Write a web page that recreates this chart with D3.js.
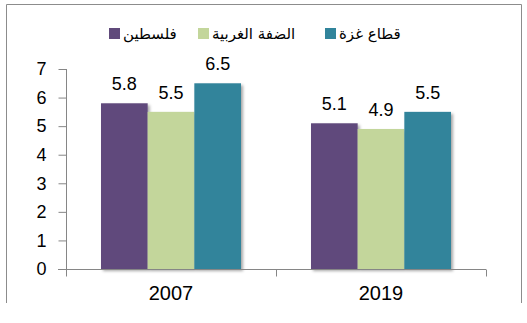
<!DOCTYPE html>
<html><head><meta charset="utf-8">
<script src="https://cdn.jsdelivr.net/npm/d3@7/dist/d3.min.js"></script>
<style>body{margin:0;background:#fff}svg{display:block}</style>
</head><body>
<script>
const categories = ["2007", "2019"];
const seriesNames = ["فلسطين", "الضفة الغربية", "قطاع غزة"];
const palestine = [5.8, 5.1];
const westBank = [5.5, 4.9];
const gaza = [6.5, 5.5];
const yTicks = [0, 1, 2, 3, 4, 5, 6, 7];
const colors = ["#604A7B", "#C3D69B", "#31849B"];

const series = [palestine, westBank, gaza];
const W = 527, H = 323;
const svg = d3.select("body").append("svg").attr("width", W).attr("height", H);

const defs = svg.append("defs");
const f = defs.append("filter").attr("id", "sh").attr("x", "-20%").attr("y", "-20%").attr("width", "140%").attr("height", "140%");
f.append("feDropShadow").attr("dx", 2).attr("dy", 2).attr("stdDeviation", 1.5).attr("flood-color", "#000").attr("flood-opacity", 0.35);

// outer frame (bottom cut off)
svg.append("path").attr("d", "M6.5,303 V4.5 H521.5 V303").attr("fill", "none").attr("stroke", "#8c8c8c").attr("stroke-width", 1);

const x0 = d3.scaleBand().domain(categories).range([66, 486]).paddingInner(1/3).paddingOuter(1/6);
const x1 = d3.scaleBand().domain(d3.range(series.length)).range([0, x0.bandwidth()]);
const y = d3.scaleLinear().domain([0, 7]).range([269, 69]);

// bars
const g = svg.append("g");
categories.forEach((c, ci) => {
  series.forEach((s, si) => {
    g.append("rect")
      .attr("x", x0(c) + x1(si))
      .attr("y", y(s[ci]))
      .attr("width", x1.bandwidth())
      .attr("height", y(0) - y(s[ci]))
      .attr("fill", colors[si])
      .attr("filter", "url(#sh)");
  });
});
// data labels
categories.forEach((c, ci) => {
  series.forEach((s, si) => {
    svg.append("text")
      .attr("x", x0(c) + x1(si) + x1.bandwidth() / 2)
      .attr("y", y(s[ci]) - 13)
      .attr("text-anchor", "middle")
      .attr("font-family", "Liberation Sans, Arial, sans-serif")
      .attr("font-size", 18)
      .attr("fill", "#000")
      .text(s[ci].toFixed(1));
  });
});

// y axis
const yAxis = d3.axisLeft(y).tickValues(yTicks).tickSize(8).tickPadding(12).tickFormat(d3.format("d"));
const ya = svg.append("g").attr("transform", "translate(66.5,0)").call(yAxis);
ya.select(".domain").attr("stroke", "#868686").attr("d", "M0,69 V276");
ya.selectAll(".tick line").attr("stroke", "#868686");
ya.selectAll(".tick text").attr("font-family", "Liberation Sans, Arial, sans-serif").attr("font-size", 18).attr("fill", "#000");

// x axis
const xa = svg.append("g").attr("transform", "translate(0,269.5)");
xa.append("line").attr("x1", 58).attr("x2", 486).attr("stroke", "#868686");
const bounds = [66, (66 + 486) / 2, 486];
bounds.forEach(b => xa.append("line").attr("x1", b + 0.5).attr("x2", b + 0.5).attr("y1", 0).attr("y2", 7).attr("stroke", "#868686"));
categories.forEach(c => {
  xa.append("text").attr("x", x0(c) + x0.bandwidth() / 2).attr("y", 30)
    .attr("text-anchor", "middle")
    .attr("font-family", "Liberation Sans, Arial, sans-serif")
    .attr("font-size", 20).attr("fill", "#000").text(c);
});

// legend
const legendX = [109, 198, 325];
const lg = svg.append("g");
seriesNames.forEach((n, i) => {
  lg.append("rect").attr("x", legendX[i]).attr("y", 28).attr("width", 11).attr("height", 11).attr("fill", colors[i]);
  lg.append("text").attr("x", legendX[i] + 14).attr("y", 39)
    .attr("font-family", "DejaVu Sans, sans-serif").attr("font-size", 15).attr("fill", "#000")
    .attr("text-anchor", "start")
    .text(n);
});
</script>
</body></html>
